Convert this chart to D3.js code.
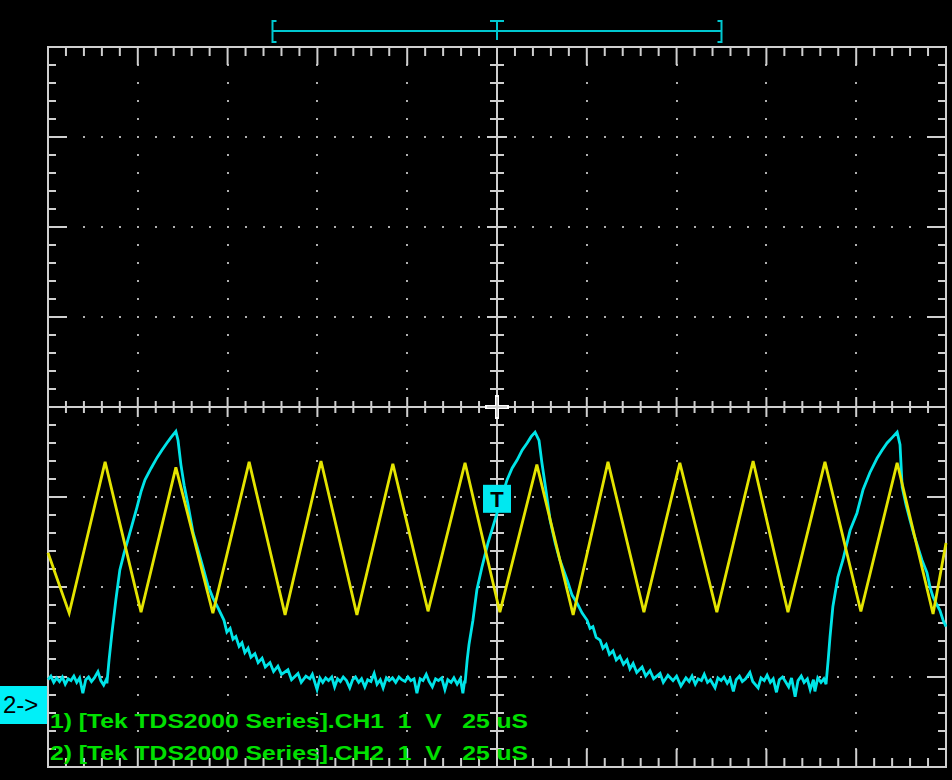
<!DOCTYPE html>
<html lang="en"><head>
<meta charset="UTF-8">
<title>TDS2000 capture</title>
<script src="https://cdn.jsdelivr.net/npm/d3@7"></script>
<style>
  body { margin: 0; background: #000; }
  svg { display: block; }
</style>
</head>
<body>
<div id="scope"></div>
<script>

// readings off the screen: time in uS from left edge, volts relative to channel ground
var ch1Pos = -2.3;   // divisions
var ch2Pos = -3.3;
var ch2TrigLevel = 2.28;

var ch1Trace = [
  [0, 0.68], [5.9, 0.01], [15.9, 1.69], [25.9, 0.02], [35.6, 1.63], [45.9, 0.01],
  [56.0, 1.69], [66.0, -0.01], [76.0, 1.70], [86.0, -0.01], [96.0, 1.67], [105.8, 0.03],
  [116.1, 1.68], [125.8, 0.02], [136.1, 1.66], [146.2, -0.01], [155.9, 1.69], [165.9, 0.02],
  [175.9, 1.68], [186.2, 0.02], [196.3, 1.70], [206.0, 0.02], [216.3, 1.69], [226.3, 0.03],
  [236.4, 1.68], [246.4, 0.00], [250, 0.79]
];

var ch2Trace = [
  [0,0.27],[0.8,0.31],[1.6,0.24],[2.4,0.29],[3.2,0.25],[4.0,0.30],[4.8,0.22],[5.6,0.28],[6.4,0.26],
  [7.2,0.31],[8.0,0.24],[8.8,0.29],[9.7,0.12],[10.5,0.27],[11.3,0.30],[12.1,0.25],[12.9,0.29],
  [13.9,0.36],[14.7,0.26],[15.5,0.21],[16.2,0.27],
  [16.4,0.23],[17.0,0.49],[17.8,0.79],[18.9,1.16],[20.0,1.49],[21.2,1.68],[22.0,1.79],[23.4,1.99],
  [24.8,2.19],[25.9,2.36],[27.0,2.49],[28.7,2.62],[30.4,2.74],[31.7,2.82],[33.1,2.90],[34.2,2.96],[35.6,3.03],
  [36.2,2.93],[37.0,2.66],[37.9,2.43],[39.0,2.21],[40.4,1.90],[41.8,1.71],[43.2,1.51],[44.5,1.32],
  [45.9,1.18],[47.3,1.07],[49.0,0.93],[49.8,0.80],[50.7,0.84],[51.5,0.72],[52.3,0.75],[53.2,0.64],
  [54.0,0.68],[54.8,0.57],[55.7,0.62],[56.5,0.52],[57.6,0.56],[58.5,0.46],[59.6,0.51],[60.5,0.41],
  [61.8,0.46],[62.8,0.36],[64.0,0.42],[65.0,0.33],[66.8,0.38],[67.8,0.27],[69.6,0.34],[70.5,0.24],
  [71.8,0.31],[72.9,0.28],[73.6,0.33],[74.9,0.16],[75.7,0.29],
  [76.5,0.24],[77.3,0.29],[78.1,0.26],[79.0,0.30],[79.8,0.19],[80.6,0.28],[81.4,0.25],[82.2,0.30],
  [83.1,0.26],[84.0,0.18],[84.8,0.27],[85.6,0.30],[86.5,0.24],[87.3,0.28],[88.2,0.19],[89.0,0.27],
  [89.9,0.25],[90.8,0.34],[91.6,0.22],[92.5,0.27],[93.3,0.18],[94.2,0.29],[95.0,0.26],[95.9,0.29],
  [96.8,0.24],[97.7,0.30],[98.5,0.27],[99.4,0.25],[100.2,0.30],[101.0,0.26],[101.9,0.28],[102.7,0.12],
  [103.6,0.28],[104.4,0.26],[105.3,0.33],[106.1,0.25],[107.0,0.19],[107.9,0.28],[108.7,0.26],[109.6,0.29],
  [110.5,0.16],[111.3,0.27],[112.2,0.24],[113.0,0.29],[113.9,0.22],[114.8,0.28],[115.5,0.12],[116.0,0.26],
  [116.1,0.23],[116.7,0.49],[117.2,0.66],[118.3,0.93],[119.4,1.27],[120.8,1.52],[122.5,1.79],[124.4,2.04],
  [126.1,2.27],[127.8,2.49],[129.2,2.62],[130.6,2.71],[132.0,2.82],[133.4,2.90],[134.5,2.97],[135.6,3.02],
  [136.7,2.93],[137.5,2.68],[138.6,2.38],[139.8,2.04],[141.2,1.79],[142.5,1.60],[144.5,1.38],[145.9,1.21],
  [147.3,1.12],[148.7,1.01],[150.1,0.93],[150.9,0.84],[151.7,0.86],[152.6,0.74],[153.7,0.71],[154.5,0.62],
  [155.4,0.66],[156.3,0.55],[157.3,0.59],[158.2,0.49],[159.2,0.53],[160.2,0.44],[161.2,0.49],[162.0,0.39],
  [162.9,0.45],[163.9,0.35],[165.4,0.41],[166.4,0.31],[167.6,0.37],[168.6,0.28],[170.4,0.34],[171.3,0.24],
  [172.6,0.32],[174.0,0.26],[175.0,0.31],[176.2,0.20],[177.6,0.29],
  [178.5,0.25],[179.3,0.31],[180.2,0.22],[181.0,0.28],[181.9,0.26],[182.7,0.33],[183.6,0.24],[184.4,0.27],
  [185.7,0.18],[186.5,0.29],[187.4,0.26],[188.2,0.30],[189.1,0.23],[189.9,0.28],[190.8,0.14],[191.6,0.27],
  [192.5,0.31],[193.3,0.25],[194.2,0.28],[195.4,0.35],[196.2,0.25],[197.7,0.18],[198.5,0.29],[199.4,0.26],
  [200.2,0.32],[201.1,0.24],[201.9,0.28],[202.8,0.13],[203.6,0.27],[204.5,0.30],[205.3,0.25],[206.2,0.19],
  [207.0,0.29],[208.0,0.08],[208.8,0.26],[209.7,0.31],[210.5,0.24],[211.4,0.28],[212.2,0.16],[213.1,0.27],
  [213.5,0.14],[214.3,0.29],[215.2,0.24],[216.0,0.28],
  [216.6,0.22],[217.2,0.49],[217.7,0.74],[218.5,1.08],[219.9,1.41],[221.3,1.60],[223.3,1.93],[225.2,2.12],
  [226.9,2.38],[228.8,2.57],[230.8,2.73],[232.2,2.82],[233.6,2.90],[235.0,2.96],[236.4,3.02],
  [237.2,2.88],[237.8,2.41],[238.9,2.21],[240.0,2.04],[241.1,1.88],[242.2,1.74],[243.3,1.60],[244.7,1.46],
  [245.6,1.29],[246.4,1.19],[247.5,1.10],[248.3,1.04],[249.2,0.93],[250.0,0.86]
];

var infoLines = [
  "1) [Tek TDS2000 Series].CH1  1  V   25 uS",
  "2) [Tek TDS2000 Series].CH2  1  V   25 uS"
];

var width = 952;
var height = 780;
var plotL = 48, plotR = 946, plotT = 47, plotB = 767;

var svg = d3.select("#scope").append("svg")
        .attr("width", width)
        .attr("height", height)
        .style("background", "#000");

// 250 uS across 10 divisions, 8 vertical divisions of 1 V
var x = d3.scaleLinear().domain([0, 250]).range([plotL, plotR]);
var y = d3.scaleLinear().domain([-4, 4]).range([plotB, plotT]);

var gridColor = "#cfcfcf";
var grid = svg.append("g");

// dotted division lines
var minorT = d3.range(0, 250.01, 5);
var minorV = d3.range(-4, 4.01, 0.2);
var divT = d3.range(25, 250, 25).filter(function (t) { return t != 125; });
var divV = d3.range(-3, 4, 1).filter(function (v) { return v != 0; });

var dots = [];
divT.forEach(function (t) {
  minorV.forEach(function (v) { dots.push([t, v]); });
});
divV.forEach(function (v) {
  minorT.forEach(function (t) { dots.push([t, v]); });
});
grid.selectAll("rect.dot").data(dots).enter().append("rect")
        .attr("class", "dot")
        .attr("x", function (d) { return Math.round(x(d[0])) - 1; })
        .attr("y", function (d) { return Math.round(y(d[1])) - 1; })
        .attr("width", 2)
        .attr("height", 2)
        .attr("fill", "#b0b0b0");

// centre cross
grid.append("line")
        .attr("x1", plotL).attr("x2", plotR)
        .attr("y1", y(0)).attr("y2", y(0))
        .attr("stroke", gridColor).attr("stroke-width", 2);
grid.append("line")
        .attr("x1", x(125)).attr("x2", x(125))
        .attr("y1", plotT).attr("y2", plotB)
        .attr("stroke", gridColor).attr("stroke-width", 2);
grid.append("line")
        .attr("x1", x(125) - 12).attr("x2", x(125) + 12)
        .attr("y1", y(0)).attr("y2", y(0))
        .attr("stroke", "#fff").attr("stroke-width", 4);
grid.append("line")
        .attr("x1", x(125)).attr("x2", x(125))
        .attr("y1", y(0) - 12).attr("y2", y(0) + 12)
        .attr("stroke", "#fff").attr("stroke-width", 4);

function isMajorT(t) { return t % 25 == 0; }
function isMajorV(v) { return Math.abs(v - Math.round(v)) < 0.01; }

// ticks on the centre lines
grid.selectAll("line.ct").data(minorT).enter().append("line")
        .attr("class", "ct")
        .attr("x1", function (d) { return x(d); })
        .attr("x2", function (d) { return x(d); })
        .attr("y1", function (d) { return y(0) - (isMajorT(d) ? 10 : 6); })
        .attr("y2", function (d) { return y(0) + (isMajorT(d) ? 10 : 6); })
        .attr("stroke", gridColor).attr("stroke-width", 2);
grid.selectAll("line.cv").data(minorV).enter().append("line")
        .attr("class", "cv")
        .attr("y1", function (d) { return y(d); })
        .attr("y2", function (d) { return y(d); })
        .attr("x1", function (d) { return x(125) - (isMajorV(d) ? 10 : 7); })
        .attr("x2", function (d) { return x(125) + (isMajorV(d) ? 10 : 7); })
        .attr("stroke", gridColor).attr("stroke-width", 2);

// ticks on the frame, pointing in
grid.selectAll("line.tt").data(minorT).enter().append("line")
        .attr("class", "tt")
        .attr("x1", function (d) { return x(d); })
        .attr("x2", function (d) { return x(d); })
        .attr("y1", plotT)
        .attr("y2", function (d) { return plotT + (isMajorT(d) ? 18 : 9); })
        .attr("stroke", gridColor).attr("stroke-width", 2);
grid.selectAll("line.bt").data(minorT).enter().append("line")
        .attr("class", "bt")
        .attr("x1", function (d) { return x(d); })
        .attr("x2", function (d) { return x(d); })
        .attr("y1", plotB)
        .attr("y2", function (d) { return plotB - (isMajorT(d) ? 18 : 9); })
        .attr("stroke", gridColor).attr("stroke-width", 2);
grid.selectAll("line.lt").data(minorV).enter().append("line")
        .attr("class", "lt")
        .attr("y1", function (d) { return y(d); })
        .attr("y2", function (d) { return y(d); })
        .attr("x1", plotL)
        .attr("x2", function (d) { return plotL + (isMajorV(d) ? 19 : 8); })
        .attr("stroke", gridColor).attr("stroke-width", 2);
grid.selectAll("line.rt").data(minorV).enter().append("line")
        .attr("class", "rt")
        .attr("y1", function (d) { return y(d); })
        .attr("y2", function (d) { return y(d); })
        .attr("x1", plotR)
        .attr("x2", function (d) { return plotR - (isMajorV(d) ? 19 : 8); })
        .attr("stroke", gridColor).attr("stroke-width", 2);

grid.append("rect")
        .attr("x", plotL).attr("y", plotT)
        .attr("width", plotR - plotL).attr("height", plotB - plotT)
        .attr("fill", "none")
        .attr("stroke", gridColor).attr("stroke-width", 2);

// record position bracket at the top
var brk = svg.append("g").attr("stroke", "#00c8d0").attr("stroke-width", 2).attr("fill", "none");
var bx1 = x(62.5), bx2 = x(187.5), by = 31;
brk.append("line").attr("x1", bx1).attr("x2", bx2).attr("y1", by).attr("y2", by);
brk.append("path").attr("d", "M" + (bx1 + 4) + ",21 H" + bx1 + " V42 H" + (bx1 + 4));
brk.append("path").attr("d", "M" + (bx2 - 4) + ",21 H" + bx2 + " V42 H" + (bx2 - 4));
brk.append("path").attr("d", "M" + (x(125) - 7) + ",21 H" + (x(125) + 7) + " M" + x(125) + ",21 V40");

// traces
var line1 = d3.line()
        .x(function (d) { return x(d[0]); })
        .y(function (d) { return y(d[1] + ch1Pos); });
var line2 = d3.line()
        .x(function (d) { return x(d[0]); })
        .y(function (d) { return y(d[1] + ch2Pos); });

svg.append("path")
        .datum(ch2Trace)
        .attr("d", line2)
        .attr("fill", "none")
        .attr("stroke", "#00e4e8")
        .attr("stroke-width", 2.8);

svg.append("path")
        .datum(ch1Trace)
        .attr("d", line1)
        .attr("fill", "none")
        .attr("stroke", "#e4e400")
        .attr("stroke-width", 2.8);

// trigger marker
var trigY = y(ch2TrigLevel + ch2Pos);
svg.append("rect")
        .attr("x", x(125) - 14).attr("y", trigY - 14)
        .attr("width", 28).attr("height", 28)
        .attr("fill", "#00e8f0");
svg.append("text")
        .attr("x", x(125)).attr("y", trigY + 8)
        .attr("text-anchor", "middle")
        .attr("font-family", "Liberation Sans, Arial, sans-serif")
        .attr("font-weight", "bold")
        .attr("font-size", 22)
        .attr("fill", "#000")
        .text("T");

// channel 2 ground marker
var gndY = y(ch2Pos);
svg.append("rect")
        .attr("x", 0).attr("y", gndY - 18)
        .attr("width", plotL - 1).attr("height", 38)
        .attr("fill", "#00f0f8");
svg.append("text")
        .attr("x", 3).attr("y", gndY + 9)
        .attr("font-family", "Liberation Sans, Arial, sans-serif")
        .attr("font-size", 24)
        .attr("fill", "#000")
        .text("2->");

// channel info
svg.selectAll("text.info").data(infoLines).enter().append("text")
        .attr("class", "info")
        .attr("x", 50)
        .attr("y", function (d, i) { return 728 + i * 32; })
        .attr("font-family", "Liberation Sans, Arial, sans-serif")
        .attr("font-weight", "bold")
        .attr("font-size", 21)
        .attr("textLength", 478)
        .attr("lengthAdjust", "spacingAndGlyphs")
        .attr("fill", "#00e000")
        .style("white-space", "pre")
        .text(function (d) { return d; });

</script>
</body></html>
